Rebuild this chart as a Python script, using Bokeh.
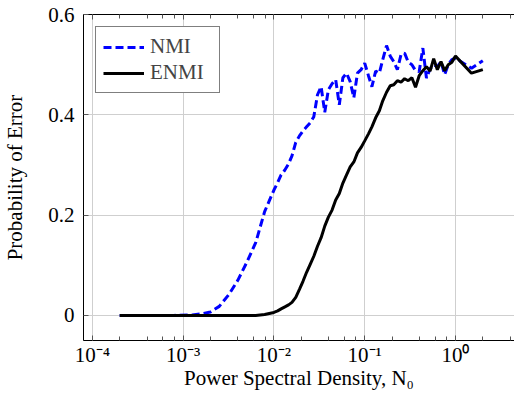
from bokeh.plotting import figure
from bokeh.models import (LogAxis, LogTicker, FixedTicker, CustomJSTickFormatter,
                          Range1d, Legend, LegendItem)
from bokeh.embed import file_html
from bokeh.resources import INLINE

# Power spectral density N0
N0 = [2.0e-4, 3.2e-4, 5.0e-4, 7.9e-4, 1.26e-3, 1.58e-3, 2.0e-3, 2.5e-3, 3.2e-3,
      4.0e-3, 5.0e-3, 6.3e-3, 7.9e-3, 1.0e-2,
      0.0110, 0.0120, 0.0132, 0.0145, 0.0158, 0.0174, 0.0191, 0.0209, 0.0229, 0.0251,
      0.0275, 0.0302, 0.0331, 0.0363, 0.0398, 0.0437, 0.0479, 0.0525, 0.0575, 0.0631,
      0.0692, 0.0759, 0.0832, 0.0912, 0.100, 0.110, 0.120, 0.132, 0.145, 0.158,
      0.174, 0.191, 0.209, 0.229, 0.251, 0.275, 0.302, 0.331, 0.363, 0.398,
      0.437, 0.479, 0.525, 0.575, 0.631, 0.692, 0.759, 0.832, 0.912, 1.0,
      1.5, 2.0]

NMI = [0, 0, 0, 0, 0.001, 0.003, 0.007, 0.018, 0.042, 0.07, 0.105, 0.145, 0.207, 0.25,
       0.265, 0.28, 0.29, 0.302, 0.318, 0.345, 0.358, 0.368, 0.376, 0.384,
       0.396, 0.44, 0.456, 0.405, 0.45, 0.462, 0.47, 0.42, 0.474, 0.483,
       0.466, 0.434, 0.483, 0.49, 0.503, 0.478, 0.456, 0.487, 0.483, 0.51,
       0.538, 0.517, 0.506, 0.49, 0.52, 0.523, 0.505, 0.5, 0.488, 0.486,
       0.533, 0.473, 0.492, 0.5, 0.496, 0.506, 0.48, 0.5, 0.51, 0.513,
       0.493, 0.508]

ENMI = [0, 0, 0, 0, 0, 0, 0, 0, 0, 0, 0, 0, 0.002, 0.006,
        0.009, 0.013, 0.017, 0.021, 0.026, 0.036, 0.052, 0.068, 0.086, 0.102,
        0.118, 0.138, 0.155, 0.178, 0.196, 0.21, 0.23, 0.243, 0.264, 0.28,
        0.296, 0.306, 0.324, 0.335, 0.348, 0.362, 0.376, 0.394, 0.408, 0.428,
        0.445, 0.458, 0.46, 0.468, 0.465, 0.472, 0.468, 0.474, 0.455, 0.478,
        0.488, 0.496, 0.487, 0.512, 0.49, 0.506, 0.488, 0.5, 0.505, 0.517,
        0.483, 0.49]

Y_TICKS = [0, 0.2, 0.4, 0.6]
Y_LABELS = {0: "0", 0.2: "0.2", 0.4: "0.4", 0.6: "0.6"}

FONT = "Liberation Serif"
FS = "21px"

p = figure(width=514, height=392, x_axis_type="log",
           x_range=Range1d(10 ** -4.0975, 10 ** 0.65), y_range=Range1d(-0.05, 0.6),
           output_backend="svg", toolbar_location=None,
           min_border_left=0, min_border_right=0, min_border_top=0, min_border_bottom=0)
p.outline_line_color = None
p.background_fill_color = "white"

sup_js = """
const e = Math.round(Math.log10(tick));
const sup = {"-":"\u207b","0":"\u2070","1":"\u00b9","2":"\u00b2","3":"\u00b3","4":"\u2074",
             "5":"\u2075","6":"\u2076","7":"\u2077","8":"\u2078","9":"\u2079"};
return "10" + String(e).split("").map(c => sup[c]).join("");
"""

xa = p.xaxis[0]
xa.ticker = LogTicker()
xa.formatter = CustomJSTickFormatter(code=sup_js)
xa.axis_label = "Power Spectral Density, N\u2080"

ya = p.yaxis[0]
ya.ticker = FixedTicker(ticks=Y_TICKS)
ya.major_label_overrides = Y_LABELS
ya.axis_label = "Probability of Error"

for ax in (xa, ya):
    ax.axis_line_color = "black"
    ax.major_tick_in = 5
    ax.major_tick_out = 0
    ax.minor_tick_in = 4
    ax.minor_tick_out = 0
    ax.major_tick_line_color = "#555555"
    ax.major_label_text_font = FONT
    ax.major_label_text_font_size = FS
    ax.major_label_text_color = "black"
    ax.axis_label_text_font = FONT
    ax.axis_label_text_font_size = FS
    ax.axis_label_text_font_style = "normal"
    ax.axis_label_text_color = "black"
xa.minor_tick_line_color = "#555555"
ya.minor_tick_line_color = None

xa.major_label_standoff = 2
xa.axis_label_standoff = -4
ya.major_label_standoff = 9
ya.axis_label_standoff = 18

top = LogAxis(ticker=LogTicker(),
              formatter=CustomJSTickFormatter(code="return '\\u00a0';"),
              major_label_text_font_size="8px", major_label_standoff=2,
              major_tick_in=5, major_tick_out=0, minor_tick_in=4, minor_tick_out=0,
              axis_line_color="black", major_tick_line_color="#555555",
              minor_tick_line_color="#555555")
p.add_layout(top, "above")

p.xgrid.grid_line_color = "#cfcfcf"
p.ygrid.grid_line_color = "#cfcfcf"
p.xgrid.ticker = xa.ticker
p.ygrid.ticker = ya.ticker

r1 = p.line(N0, NMI, line_color="#0000ff", line_width=3, line_dash="8 4")
r2 = p.line(N0, ENMI, line_color="black", line_width=3)

legend = Legend(items=[LegendItem(label="NMI", renderers=[r1]),
                       LegendItem(label="ENMI", renderers=[r2])],
                location="top_left", margin=12, padding=7, spacing=1,
                glyph_width=41, glyph_height=24, label_height=24, label_width=62,
                label_standoff=6,
                label_text_font=FONT, label_text_font_size=FS,
                border_line_color="black", border_line_width=1,
                background_fill_color="white", background_fill_alpha=1)
p.add_layout(legend)

open("out.html", "w").write(file_html(p, INLINE))
